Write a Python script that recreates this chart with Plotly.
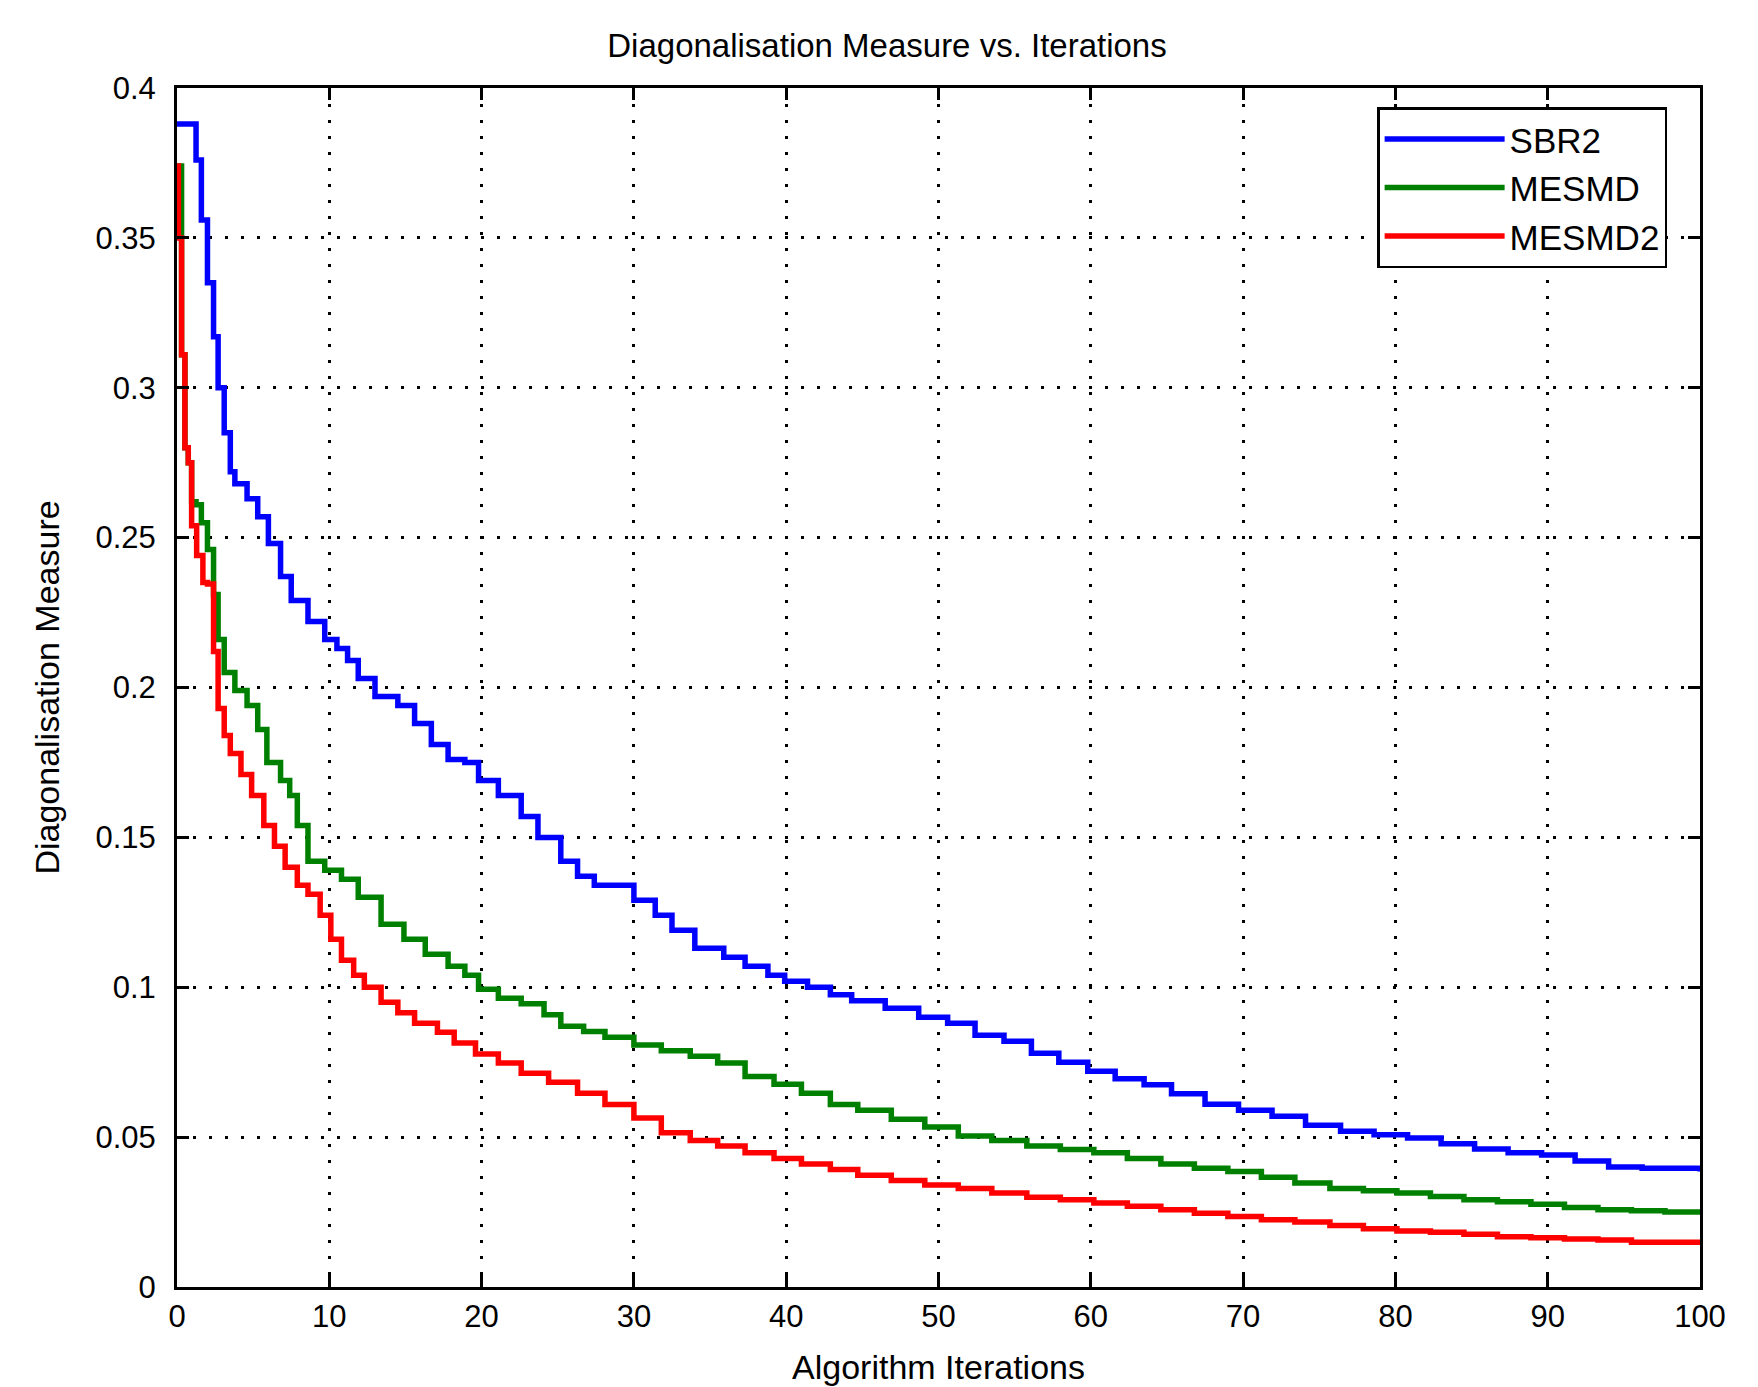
import plotly.graph_objects as go

# ---- data ----
sbr2_x = [0, 1.0, 1.25, 1.6, 2.0, 2.4, 2.7, 3.1, 3.5, 3.8, 4.6, 5.3, 6.0, 6.8, 7.5, 8.6, 9.7, 10.5, 11.2, 11.9,
          13.0, 14.5, 15.6, 16.7, 17.8, 18.9, 19.8, 21.1, 22.6, 23.7, 25.2, 26.3, 27.4, 28.5, 30.0, 31.4, 32.5,
          34.0, 35.9, 37.3, 38.8, 39.9, 41.4, 42.9, 44.3, 46.5, 48.7, 50.6, 52.4, 54.3, 56.1, 57.9, 59.8, 61.6,
          63.5, 65.3, 67.5, 69.7, 71.9, 74.1, 76.4, 78.6, 80.8, 83.0, 85.2, 87.4, 89.6, 91.8, 94.0, 96.2, 100.0]
sbr2_y = [0.388, 0.388, 0.376, 0.356, 0.335, 0.317, 0.300, 0.285, 0.272, 0.268, 0.263, 0.257, 0.248, 0.237, 0.229,
          0.222, 0.216, 0.213, 0.209, 0.203, 0.197, 0.194, 0.188, 0.181, 0.176, 0.175, 0.169, 0.164, 0.157, 0.150,
          0.142, 0.137, 0.134, 0.134, 0.129, 0.124, 0.119, 0.113, 0.110, 0.107, 0.104, 0.102, 0.100, 0.0975,
          0.0955, 0.093, 0.090, 0.088, 0.084, 0.082, 0.078, 0.075, 0.072, 0.0695, 0.0675, 0.0645, 0.061, 0.059,
          0.057, 0.054, 0.052, 0.0508, 0.0497, 0.0478, 0.046, 0.0448, 0.044, 0.042, 0.040, 0.0396, 0.0385]

mesmd_x = [0, 0.3, 0.52, 0.74, 0.96, 1.25, 1.6, 2.0, 2.4, 2.7, 3.1, 3.8, 4.6, 5.3, 5.9, 6.8, 7.4, 7.9, 8.6, 9.7,
           10.8, 11.9, 13.4, 14.9, 16.3, 17.8, 18.9, 19.8, 21.1, 22.6, 24.1, 25.2, 26.7, 28.1, 30.0, 31.8, 33.7,
           35.5, 37.3, 39.2, 41.0, 42.9, 44.7, 46.9, 49.1, 51.3, 53.5, 55.8, 58.0, 60.2, 62.4, 64.6, 66.8, 69.0,
           71.2, 73.4, 75.7, 77.9, 80.1, 82.3, 84.5, 86.7, 88.9, 91.1, 93.3, 95.5, 97.7, 100.0]
mesmd_y = [0.374, 0.311, 0.280, 0.275, 0.262, 0.261, 0.255, 0.246, 0.231, 0.216, 0.205, 0.199, 0.194, 0.186,
           0.175, 0.169, 0.164, 0.154, 0.142, 0.139, 0.136, 0.130, 0.121, 0.116, 0.111, 0.107, 0.104, 0.0993,
           0.0963, 0.0945, 0.0908, 0.087, 0.0852, 0.0833, 0.0807, 0.0788, 0.077, 0.0747, 0.0702, 0.0676, 0.0646,
           0.0609, 0.059, 0.056, 0.0534, 0.0504, 0.0489, 0.047, 0.0459, 0.0448, 0.0429, 0.041, 0.0396, 0.0385,
           0.0366, 0.0347, 0.0329, 0.0321, 0.0314, 0.0302, 0.0291, 0.0284, 0.0276, 0.0265, 0.0258, 0.0254, 0.025,
           0.0243]

mesmd2_x = [0, 0.09, 0.3, 0.52, 0.74, 0.96, 1.29, 1.7, 2.0, 2.4, 2.7, 3.1, 3.5, 4.2, 4.9, 5.7, 6.4, 7.1, 7.9, 8.6,
            9.4, 10.1, 10.8, 11.6, 12.3, 13.4, 14.5, 15.6, 17.1, 18.2, 19.6, 21.1, 22.6, 24.4, 26.3, 28.1, 30.0,
            31.8, 33.7, 35.5, 37.3, 39.2, 41.0, 42.9, 44.7, 46.9, 49.1, 51.3, 53.5, 55.8, 58.0, 60.2, 62.4, 64.6,
            66.8, 69.0, 71.2, 73.4, 75.7, 77.9, 80.1, 82.3, 84.5, 86.7, 88.9, 91.1, 93.3, 95.5, 97.7, 100.0]
mesmd2_y = [0.374, 0.350, 0.311, 0.280, 0.275, 0.254, 0.244, 0.235, 0.2345, 0.212, 0.193, 0.184, 0.178, 0.171,
            0.164, 0.154, 0.147, 0.140, 0.134, 0.131, 0.124, 0.116, 0.109, 0.104, 0.100, 0.095, 0.0915, 0.088,
            0.085, 0.0814, 0.0777, 0.0747, 0.0713, 0.0683, 0.0646, 0.0609, 0.0564, 0.0515, 0.0489, 0.047, 0.0448,
            0.0429, 0.041, 0.0392, 0.0373, 0.0355, 0.034, 0.0329, 0.0314, 0.0299, 0.0291, 0.028, 0.0269, 0.0258,
            0.0246, 0.0235, 0.0224, 0.0217, 0.0205, 0.0194, 0.0187, 0.0183, 0.0176, 0.0168, 0.0164, 0.016, 0.0157,
            0.0149, 0.0149, 0.0142]

series_names = ["SBR2", "MESMD", "MESMD2"]
series_colors = ["#0000FF", "#008000", "#FF0000"]

x_tickvals = [0, 10, 20, 30, 40, 50, 60, 70, 80, 90, 100]
x_ticktext = ["0", "10", "20", "30", "40", "50", "60", "70", "80", "90", "100"]
y_tickvals = [0, 0.05, 0.1, 0.15, 0.2, 0.25, 0.3, 0.35, 0.4]
y_ticktext = ["0", "0.05", "0.1", "0.15", "0.2", "0.25", "0.3", "0.35", "0.4"]

FONT = "Liberation Sans, Arial, sans-serif"

fig = go.Figure()
for name, color, xs, ys in zip(series_names, series_colors,
                               [sbr2_x, mesmd_x, mesmd2_x], [sbr2_y, mesmd_y, mesmd2_y]):
    fig.add_trace(go.Scatter(x=xs, y=ys, mode="lines", name=name,
                             line=dict(color=color, width=5.5, shape="hv")))

axis_common = dict(
    showline=True, linecolor="black", linewidth=3, mirror="ticks",
    ticks="inside", ticklen=12, tickwidth=2.5, tickcolor="black",
    showgrid=True, gridcolor="black", gridwidth=2.5, griddash="3px,13px",
    zeroline=False, tickfont=dict(family=FONT, size=31, color="black"),
)

fig.update_layout(
    width=1758, height=1387,
    margin=dict(l=169, r=66, t=80, b=108),
    paper_bgcolor="white", plot_bgcolor="white",
    font=dict(family=FONT, size=33, color="black"),
    title=dict(text="Diagonalisation Measure vs. Iterations", x=0.5, xanchor="center",
               y=1 - 37 / 1387, yanchor="middle", yref="container",
               font=dict(family=FONT, size=33, color="black")),
    xaxis=dict(range=[0, 100], tickvals=x_tickvals, ticktext=x_ticktext,
               title=dict(text="Algorithm Iterations", standoff=22,
                          font=dict(family=FONT, size=34)), **axis_common),
    yaxis=dict(range=[0, 0.4], tickvals=y_tickvals, ticktext=y_ticktext,
               ticklabelstandoff=12,
               title=dict(text="Diagonalisation Measure", standoff=26,
                          font=dict(family=FONT, size=34)), **axis_common),
    legend=dict(x=0.788, y=0.984, xanchor="left", yanchor="top",
                bgcolor="white", bordercolor="black", borderwidth=2.5,
                font=dict(family=FONT, size=35, color="black"),
                itemwidth=120, tracegroupgap=0),
    showlegend=True,
)

fig.write_html("out.html")
